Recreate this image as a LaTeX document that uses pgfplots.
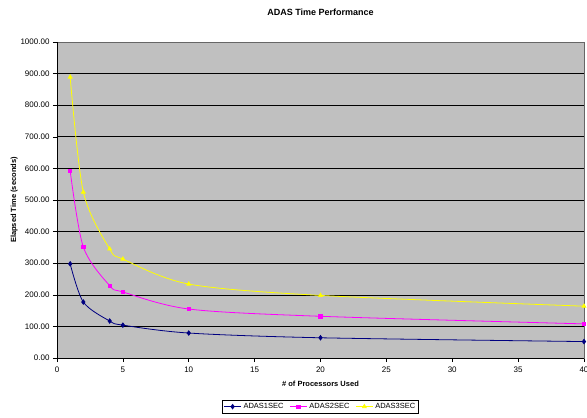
\documentclass[border=0pt]{standalone}
\usepackage{pgfplots}
\pgfplotsset{compat=1.18}
\usepackage{fontspec}
\setmainfont{Liberation Sans}
\definecolor{navyc}{HTML}{000080}
\definecolor{magc}{HTML}{FF00FF}
\definecolor{yelc}{HTML}{FFFF00}
\definecolor{plotgray}{HTML}{C0C0C0}
\begin{document}
\begin{tikzpicture}[x=1pt,y=1pt]
\useasboundingbox (-57,-60) rectangle (530,358);
\begin{axis}[
  scale only axis, width=527pt, height=316pt,
  at={(0,0)}, anchor=south west,
  xmin=0, xmax=40, ymin=0, ymax=1000,
  xtick={0,5,...,40}, ytick={0,100,...,1000},
  axis background/.style={fill=plotgray},
  axis line style={draw=gray!80!black, line width=0.8pt},
  ymajorgrids, grid style={black, line width=0.6pt},
  tick align=outside, major tick length=4pt,
  tick style={black, line width=0.5pt},
  xtick pos=bottom, ytick pos=left,
  /pgf/number format/assume math mode=true,
  tick label style={font=\fontsize{8}{9}\selectfont},
  yticklabel style={/pgf/number format/.cd, fixed, fixed zerofill, precision=2, 1000 sep={}},
  xticklabel style={yshift=-1pt, /pgf/number format/.cd, fixed, precision=0},
  xlabel={\bfseries \# of Processors Used},
  ylabel={\bfseries Elapsed Time (seconds)},
  label style={font=\fontsize{7.5}{8}\selectfont},
  xlabel style={yshift=-2pt},
  ylabel style={yshift=-4pt},
  title={\bfseries ADAS Time Performance},
  title style={font=\fontsize{9}{10}\selectfont, yshift=17pt},
  legend style={at={(0.5,-0.133)}, anchor=north, legend columns=3,
    font=\fontsize{7.5}{8}\selectfont, draw=black, line width=0.5pt,
    inner sep=1pt, /tikz/every even column/.append style={column sep=4pt}},
  legend image post style={line width=0.8pt},
]
\addplot[navyc, line width=0.8pt, smooth, tension=0.5, mark=diamond*, mark size=2.2pt, mark options={fill=navyc}]
  coordinates {(1,298) (2,177) (4,117) (5,104) (10,79) (20,64) (40,52)};
\addlegendentry{ADAS1SEC}
\addplot[magc, line width=0.8pt, smooth, tension=0.5, mark=square*, mark size=1.7pt, mark options={fill=magc}]
  coordinates {(1,592) (2,351) (4,229) (5,209) (10,155) (20,132) (40,108)};
\addlegendentry{ADAS2SEC}
\addplot[yelc, line width=0.8pt, smooth, tension=0.5, mark=triangle*, mark size=2.2pt, mark options={fill=yelc}]
  coordinates {(1,889) (2,525) (4,345) (5,313) (10,234) (20,198) (40,164)};
\addlegendentry{ADAS3SEC}
\draw[black, line width=0.8pt] (rel axis cs:0,1) -- (rel axis cs:0,0) -- (rel axis cs:1,0);
\end{axis}
\end{tikzpicture}
\end{document}
